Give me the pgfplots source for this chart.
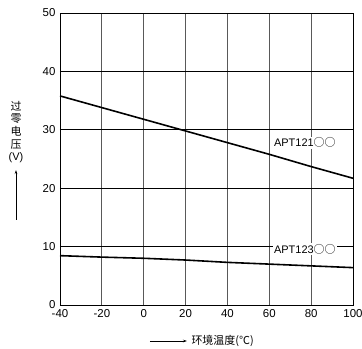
\documentclass[border=0pt]{standalone}
\usepackage{pgfplots}
\pgfplotsset{compat=1.18}
\usepackage{fontspec}
\setmainfont{Liberation Sans}
\newfontfamily\cjk{Noto Sans CJK SC}
\usetikzlibrary{arrows.meta}
\begin{document}
\begin{tikzpicture}[x=1bp,y=1bp]
\useasboundingbox (-60,-44) rectangle (302,305);
\node[rotate=0, align=center, inner sep=0pt, font={\fontsize{11}{12.6}\selectfont}, anchor=north] at (-44,204) {{\cjk 过}\\{\cjk 零}\\{\cjk 电}\\{\cjk 压}\\(V)};
\draw[line width=0.6pt, -{Stealth[length=4pt,width=2.5pt]}] (-44,85) -- (-44,135);
\draw[line width=0.6pt, -{Stealth[length=4pt,width=2.5pt]}] (90,-36) -- (127,-36);
\node[anchor=west, font={\cjk\fontsize{11}{13}\selectfont}] at (128,-36) {环境温度(℃)};
\begin{axis}[
  at={(0,0)}, anchor=south west,
  scale only axis, width=293bp, height=292bp,
  xmin=-40, xmax=100, ymin=0, ymax=50,
  xtick={-40,-20,...,100}, ytick={0,10,...,50},
  tick style={draw=none},
  axis line style={line width=1pt, black},
  font=\fontsize{11.5}{13}\selectfont,
  /pgf/number format/assume math mode=true,
  xticklabel style={yshift=-1pt},
  yticklabel style={xshift=-1pt},
  x grid style={gray!70!black, line width=0.8pt},
  y grid style={black, line width=0.8pt},
  xmajorgrids, ymajorgrids,
  clip=false,
]
\addplot[black, line width=1.6pt] coordinates {(-40,35.8) (-20,33.8) (0,31.8) (20,29.8) (40,27.8) (60,25.8) (80,23.7) (100,21.7)};
\addplot[black, line width=1.6pt] coordinates {(-40,8.45) (-20,8.2) (0,8.0) (20,7.7) (40,7.3) (60,7.0) (80,6.7) (100,6.4)};
\node[fill=white, inner sep=1pt, font=\fontsize{11}{13}\selectfont] at (axis cs:77,27.8) {APT121{\cjk ○○}};
\node[fill=white, inner sep=1pt, font=\fontsize{11}{13}\selectfont] at (axis cs:77,9.6) {APT123{\cjk ○○}};
\end{axis}
\end{tikzpicture}
\end{document}
